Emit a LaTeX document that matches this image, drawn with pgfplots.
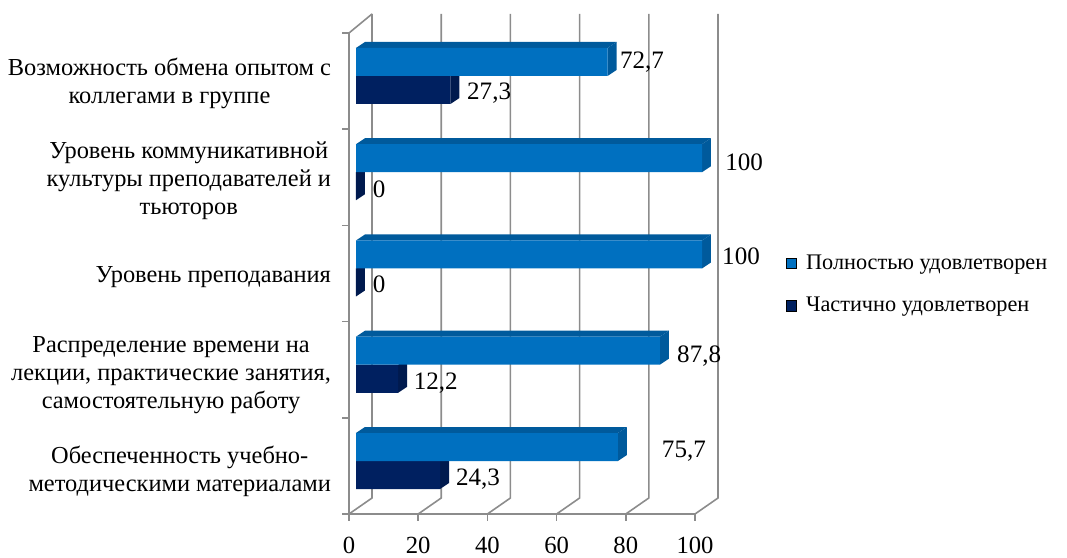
\documentclass[border=0pt]{standalone}
\usepackage{fontspec}
\setmainfont{Liberation Serif}
\usepackage{pgfplots}
\pgfplotsset{compat=1.18}
\definecolor{bluef}{HTML}{0070C0}
\definecolor{bluet}{HTML}{005A9C}
\definecolor{darkf}{HTML}{002060}
\definecolor{darks}{HTML}{001A4E}
\definecolor{gridc}{HTML}{8C8C8C}
% bar faces: #1 top of front face (y, px above floor), #2 value, #3 bar height
\newcommand{\TopFace}[2]{%
  \pgfmathsetmacro\ya{#1}\pgfmathsetmacro\yb{#1+6}%
  \pgfmathsetmacro\xe{#2+2.02}\pgfmathsetmacro\xf{#2+4.62}%
  \addplot[forget plot,fill=bluet,draw=none] coordinates {(2.02,\ya) (4.62,\yb) (\xf,\yb) (\xe,\ya)} --cycle;}
\newcommand{\SideFace}[4]{%
  \pgfmathsetmacro\ya{#1}\pgfmathsetmacro\yb{#1+6}\pgfmathsetmacro\yc{#1-#3}\pgfmathsetmacro\yd{#1-#3+6}%
  \pgfmathsetmacro\xe{#2+2.02}\pgfmathsetmacro\xf{#2+4.62}%
  \addplot[forget plot,fill=#4,draw=none] coordinates {(\xe,\ya) (\xf,\yb) (\xf,\yd) (\xe,\yc)} --cycle;}
\newcommand{\BackLine}[1]{%
  \pgfmathsetmacro\xa{#1+6.65}%
  \addplot[forget plot,gridc,line width=1.2pt] coordinates {(#1,0) (\xa,16) (\xa,500)};}
\begin{document}
\begin{tikzpicture}
\path[use as bounding box] (0pt,0pt) rectangle (800.25pt,417.75pt);
\begin{axis}[
  at={(261.75pt,32.25pt)},anchor=south west,
  scale only axis,width=259.5pt,height=360.75pt,
  xmin=0,xmax=100,ymin=0,ymax=481,clip=false,
  axis x line=bottom,axis y line=left,
  axis line style={-,gridc,line width=1.2pt},
  tick style={gridc,line width=1.2pt},
  tick align=outside,major tick length=5pt,
  /pgf/number format/assume math mode=true,
  xtick={0,20,40,60,80,100},
  ytick={0,96.2,192.4,288.6,384.8,481},
  yticklabels={},
  extra y ticks={43,139,237,333,431},
  extra y tick labels={
    {Обеспеченность учебно-\\методическими материалами},
    {Распределение времени на\\лекции, практические занятия,\\самостоятельную работу},
    {Уровень преподавания},
    {Уровень коммуникативной\\культуры преподавателей и\\тьюторов},
    {Возможность обмена опытом с\\коллегами в группе}},
  extra y tick style={major tick length=0pt,
    yticklabel style={align=center,anchor=east,xshift=-10pt,
      font=\fontsize{18.3}{21}\selectfont}},
  xticklabel style={font=\fontsize{18.5}{20}\selectfont,yshift=-8.5pt},
  legend style={at={(axis cs:126.1,262)},anchor=north west,draw=none,fill=none,
    font=\fontsize{16.7}{20}\selectfont,row sep=15.3pt,
    legend cell align=left,inner sep=0pt},
  legend image code/.code={\fill[#1] (0pt,-4pt) rectangle (8pt,4pt);\path (13pt,0pt);},
]
\BackLine{0}\BackLine{20}\BackLine{40}\BackLine{60}\BackLine{80}\BackLine{100}
\addplot[forget plot,gridc,line width=1.2pt] coordinates {(0,481) (6.65,500)};

% Dark series (частично удовлетворен)
\SideFace{53}{24.3}{28}{darks}
\SideFace{149.25}{12.2}{28}{darks}
\SideFace{245.5}{0}{28}{darks}
\SideFace{341.75}{0}{28}{darks}
\SideFace{438}{27.3}{28}{darks}
\addplot[forget plot,xbar,bar width=21pt,xshift=5.25pt,bar shift=0pt,fill=darkf,draw=none]
  coordinates {(24.3,39) (12.2,135.25) (0,231.5) (0,327.75) (27.3,424)};

% Blue series (полностью удовлетворен)
\TopFace{81}{75.7}\TopFace{177.25}{87.8}\TopFace{273.5}{100}\TopFace{369.75}{100}\TopFace{466}{72.7}
\SideFace{81}{75.7}{28}{bluet}
\SideFace{177.25}{87.8}{28}{bluet}
\SideFace{273.5}{100}{28}{bluet}
\SideFace{369.75}{100}{28}{bluet}
\SideFace{466}{72.7}{28}{bluet}
\addplot[forget plot,xbar,bar width=21pt,xshift=5.25pt,bar shift=0pt,fill=bluef,draw=none]
  coordinates {(75.7,67) (87.8,163.25) (100,259.5) (100,355.75) (72.7,452)};

\addlegendimage{fill=bluef}\addlegendentry{Полностью удовлетворен}
\addlegendimage{fill=darkf}\addlegendentry{Частично удовлетворен}

\foreach \vx/\vy/\vt in {84.7/452/{72,7},40.5/421/{27,3},114.2/352/{100},8.7/325/{0},113.3/258/{100},8.7/230/{0},101.2/158/{87,8},25.1/131/{12,2},96.8/63/{75,7},37.3/35/{24,3}}{
  \edef\temp{\noexpand\node[font=\noexpand\fontsize{18.8}{20}\noexpand\selectfont,inner sep=0pt] at (axis cs:\vx,\vy) {\vt};}
  \temp
}
\end{axis}
\end{tikzpicture}
\end{document}
